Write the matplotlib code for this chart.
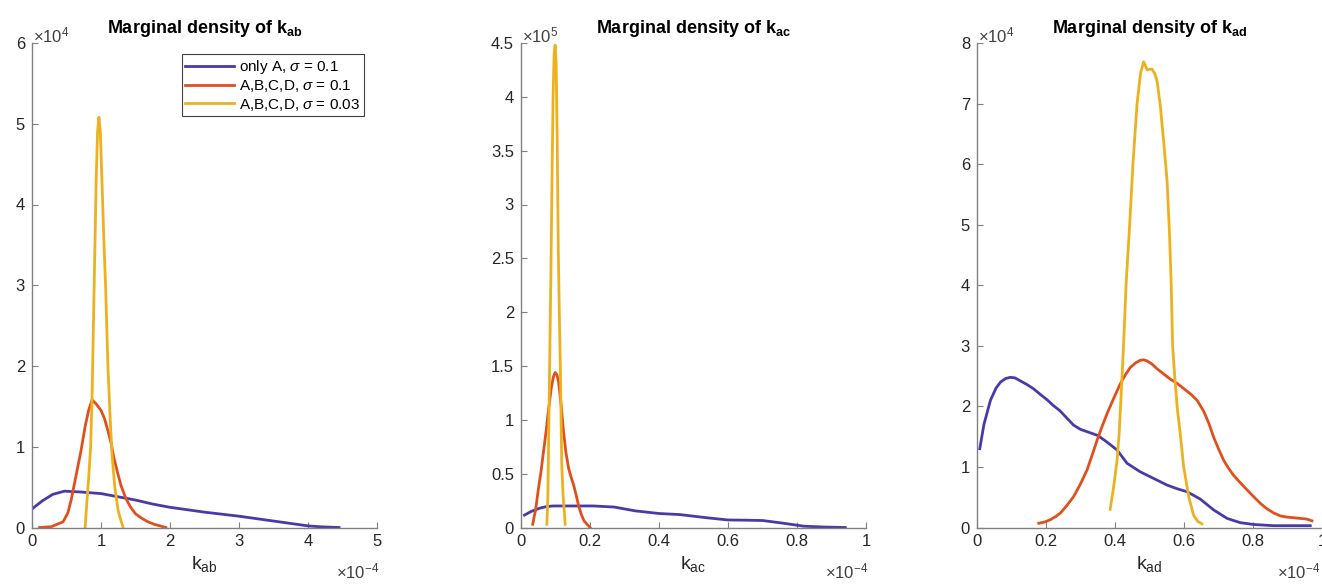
import matplotlib
matplotlib.use("Agg")
import matplotlib.pyplot as plt
from matplotlib.ticker import FormatStrFormatter

plt.rcParams["font.family"] = ["Liberation Sans", "DejaVu Sans"]
plt.rcParams["mathtext.fontset"] = "custom"
plt.rcParams["mathtext.rm"] = "Liberation Sans"
plt.rcParams["mathtext.it"] = "Liberation Sans:italic"
plt.rcParams["mathtext.bf"] = "Liberation Sans:bold"

# colours of the three runs
C_ONLY_A = "#4a3aa8"
C_ABCD_01 = "#e0501e"
C_ABCD_003 = "#edb120"

legend_labels = [r"only A, $\sigma$ = 0.1",
                 r"A,B,C,D, $\sigma$ = 0.1",
                 r"A,B,C,D, $\sigma$ = 0.03"]

# ---- k_ab  (x in 1e-4, density in 1e4)
kab_a_x = [0.0, 0.15, 0.3, 0.47, 0.7, 1.0, 1.25, 1.5, 1.75, 2.0, 2.25, 2.5, 2.75, 3.0, 3.25, 3.5, 3.75, 4.0, 4.2, 4.45]
kab_a_y = [0.23, 0.33, 0.41, 0.45, 0.44, 0.42, 0.38, 0.34, 0.29, 0.25, 0.22, 0.19, 0.165, 0.14, 0.11, 0.08, 0.05, 0.02, 0.008, 0.0]
kab_b_x = [0.11, 0.28, 0.45, 0.52, 0.57, 0.64, 0.71, 0.77, 0.82, 0.87, 0.93, 1.0, 1.05, 1.1, 1.15, 1.19, 1.24, 1.29, 1.36, 1.43, 1.5, 1.58, 1.68, 1.77, 1.94]
kab_b_y = [0.0, 0.01, 0.07, 0.18, 0.35, 0.65, 0.95, 1.25, 1.45, 1.58, 1.53, 1.45, 1.35, 1.2, 1.03, 0.85, 0.68, 0.52, 0.36, 0.25, 0.17, 0.12, 0.07, 0.04, 0.0]
kab_c_x = [0.77, 0.79, 0.82, 0.85, 0.87, 0.89, 0.91, 0.93, 0.95, 0.97, 0.99, 1.01, 1.04, 1.07, 1.10, 1.13, 1.16, 1.20, 1.25, 1.32]
kab_c_y = [0.0, 0.25, 0.6, 1.0, 1.6, 2.5, 3.4, 4.3, 4.9, 5.08, 4.9, 4.4, 3.6, 2.9, 2.0, 1.4, 0.9, 0.5, 0.2, 0.0]

# ---- k_ac  (x in 1e-4, density in 1e5)
kac_a_x = [0.01, 0.03, 0.055, 0.075, 0.094, 0.15, 0.21, 0.27, 0.33, 0.40, 0.46, 0.50, 0.54, 0.60, 0.65, 0.70, 0.76, 0.82, 0.88, 0.94]
kac_a_y = [0.115, 0.15, 0.18, 0.195, 0.2, 0.2, 0.2, 0.19, 0.155, 0.13, 0.12, 0.105, 0.09, 0.07, 0.068, 0.065, 0.04, 0.012, 0.004, 0.0]
kac_b_x = [0.034, 0.043, 0.05, 0.058, 0.065, 0.073, 0.08, 0.088, 0.094, 0.099, 0.104, 0.109, 0.116, 0.123, 0.13, 0.138, 0.145, 0.152, 0.16, 0.167, 0.175, 0.183, 0.2]
kac_b_y = [0.03, 0.18, 0.35, 0.52, 0.7, 0.9, 1.1, 1.3, 1.4, 1.44, 1.42, 1.35, 1.15, 0.9, 0.7, 0.55, 0.47, 0.4, 0.3, 0.2, 0.12, 0.06, 0.0]
kac_c_x = [0.075, 0.078, 0.080, 0.083, 0.086, 0.089, 0.093, 0.096, 0.099, 0.102, 0.105, 0.108, 0.111, 0.114, 0.118, 0.122, 0.128]
kac_c_y = [0.03, 0.3, 0.8, 1.5, 2.2, 3.0, 4.0, 4.4, 4.48, 4.3, 3.6, 2.6, 2.0, 1.5, 0.6, 0.3, 0.03]

# ---- k_ad  (x in 1e-4, density in 1e4)
kad_a_x = [0.008, 0.02, 0.039, 0.055, 0.068, 0.083, 0.097, 0.11, 0.126, 0.145, 0.164, 0.183, 0.203, 0.22, 0.24, 0.26, 0.28, 0.30, 0.32, 0.35, 0.377, 0.406, 0.435, 0.473, 0.512, 0.551, 0.58, 0.609, 0.647, 0.686, 0.725, 0.763, 0.802, 0.86, 0.92, 0.966]
kad_a_y = [1.30, 1.7, 2.1, 2.3, 2.4, 2.46, 2.48, 2.47, 2.42, 2.36, 2.29, 2.2, 2.11, 2.02, 1.93, 1.81, 1.69, 1.62, 1.58, 1.52, 1.41, 1.28, 1.06, 0.92, 0.81, 0.70, 0.64, 0.59, 0.47, 0.29, 0.15, 0.08, 0.05, 0.03, 0.03, 0.03]
kad_b_x = [0.179, 0.196, 0.213, 0.228, 0.242, 0.26, 0.28, 0.30, 0.319, 0.334, 0.348, 0.362, 0.377, 0.396, 0.415, 0.43, 0.444, 0.46, 0.473, 0.483, 0.493, 0.507, 0.522, 0.54, 0.56, 0.58, 0.60, 0.62, 0.638, 0.657, 0.672, 0.686, 0.70, 0.715, 0.73, 0.744, 0.763, 0.783, 0.80, 0.821, 0.84, 0.86, 0.88, 0.90, 0.92, 0.937, 0.955, 0.971]
kad_b_y = [0.07, 0.09, 0.13, 0.18, 0.24, 0.36, 0.51, 0.72, 0.95, 1.2, 1.44, 1.66, 1.88, 2.13, 2.37, 2.52, 2.64, 2.72, 2.76, 2.77, 2.75, 2.7, 2.62, 2.54, 2.45, 2.38, 2.29, 2.2, 2.10, 1.92, 1.72, 1.49, 1.3, 1.11, 0.97, 0.86, 0.74, 0.62, 0.52, 0.40, 0.31, 0.24, 0.19, 0.17, 0.16, 0.15, 0.14, 0.11]
kad_c_x = [0.386, 0.396, 0.406, 0.412, 0.417, 0.425, 0.432, 0.4425, 0.452, 0.464, 0.474, 0.483, 0.493, 0.507, 0.515, 0.522, 0.531, 0.541, 0.551, 0.558, 0.563, 0.567, 0.573, 0.580, 0.590, 0.599, 0.614, 0.628, 0.640, 0.652]
kad_c_y = [0.30, 0.67, 1.11, 1.55, 2.1, 3.03, 4.0, 5.0, 6.0, 7.0, 7.5, 7.69, 7.56, 7.57, 7.5, 7.37, 6.98, 6.38, 5.72, 4.85, 4.0, 3.0, 2.5, 2.0, 1.5, 1.0, 0.5, 0.2, 0.1, 0.06]

panels = [
    dict(sub="ab", xs=(kab_a_x, kab_b_x, kab_c_x), ys=(kab_a_y, kab_b_y, kab_c_y),
         xlim=(0, 5), xticks=[0, 1, 2, 3, 4, 5], ylim=(0, 6), yticks=[0, 1, 2, 3, 4, 5, 6],
         yexp="4", left=32),
    dict(sub="ac", xs=(kac_a_x, kac_b_x, kac_c_x), ys=(kac_a_y, kac_b_y, kac_c_y),
         xlim=(0, 1), xticks=[0, 0.2, 0.4, 0.6, 0.8, 1], ylim=(0, 4.5),
         yticks=[0, 0.5, 1, 1.5, 2, 2.5, 3, 3.5, 4, 4.5], yexp="5", left=521),
    dict(sub="ad", xs=(kad_a_x, kad_b_x, kad_c_x), ys=(kad_a_y, kad_b_y, kad_c_y),
         xlim=(0, 1), xticks=[0, 0.2, 0.4, 0.6, 0.8, 1], ylim=(0, 8), yticks=[0, 1, 2, 3, 4, 5, 6, 7, 8],
         yexp="4", left=977),
]

W, H = 1322, 586
fig = plt.figure(figsize=(W / 100, H / 100), dpi=100)
colors = [C_ONLY_A, C_ABCD_01, C_ABCD_003]
spine_col = "#808080"
text_col = "#262626"

for i, p in enumerate(panels):
    ax = fig.add_axes([p["left"] / W, (H - 527.5) / H, 345 / W, 484.5 / H])
    for x, y, c, lab in zip(p["xs"], p["ys"], colors, legend_labels):
        ax.plot(x, y, color=c, lw=2.0, label=lab)
    ax.set_xlim(*p["xlim"])
    ax.set_ylim(*p["ylim"])
    ax.set_xticks(p["xticks"])
    ax.set_yticks(p["yticks"])
    ax.xaxis.set_major_formatter(FormatStrFormatter("%g"))
    ax.yaxis.set_major_formatter(FormatStrFormatter("%g"))
    for s in ("top", "right"):
        ax.spines[s].set_visible(False)
    for s in ("left", "bottom"):
        ax.spines[s].set_color(spine_col)
        ax.spines[s].set_linewidth(1.0)
    ax.tick_params(direction="in", length=4, width=0.8, color=spine_col,
                   labelcolor=text_col, labelsize=12, pad=5)
    ax.set_title(r"Marginal density of $\mathbf{k_{%s}}$" % p["sub"],
                 fontsize=13, fontweight="bold", pad=7)
    ax.set_xlabel(r"$\mathrm{k_{%s}}$" % p["sub"], fontsize=14, color=text_col, labelpad=3)
    ax.text(0.003, 0.995, r"$\times10^{%s}$" % p["yexp"], transform=ax.transAxes,
            ha="left", va="bottom", fontsize=12, color="#404040")
    # last panel touches the figure edge, so keep its exponent inside
    ax.annotate(r"$\times10^{-4}$", xy=(1, 0), xycoords="axes fraction",
                xytext=(2 if i < 2 else -1, -32), textcoords="offset points",
                ha="right", va="center", fontsize=12, color="#404040",
                annotation_clip=False)
    if i == 0:
        leg = ax.legend(loc="upper right", bbox_to_anchor=(0.962, 0.977), fontsize=11,
                        frameon=True, fancybox=False, framealpha=1,
                        handlelength=3.2, handletextpad=0.3, labelspacing=0.15,
                        borderpad=0.25, borderaxespad=0)
        leg.get_frame().set_edgecolor("#404040")
        leg.get_frame().set_linewidth(0.8)

fig.savefig("out.png", dpi=100)
